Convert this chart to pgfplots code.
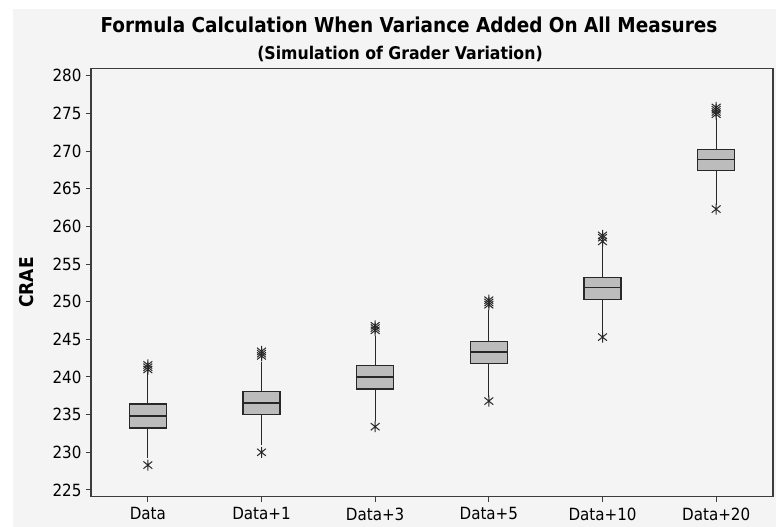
\documentclass[border=0pt]{standalone}
\usepackage{pgfplots}
\pgfplotsset{compat=1.18}
\usepackage{fontspec}
\setmainfont{DejaVu Sans Condensed}
\definecolor{bg}{RGB}{244,244,244}
\definecolor{boxfill}{RGB}{188,188,188}
\definecolor{boxline}{RGB}{40,40,40}
\definecolor{framecol}{RGB}{60,60,60}
\pgfdeclareplotmark{mtstar}{%
  \pgfpathmoveto{\pgfqpoint{0pt}{\pgfplotmarksize}}%
  \pgfpathlineto{\pgfqpoint{0pt}{-\pgfplotmarksize}}%
  \pgfpathmoveto{\pgfqpoint{-0.8\pgfplotmarksize}{0.65\pgfplotmarksize}}%
  \pgfpathlineto{\pgfqpoint{0.8\pgfplotmarksize}{-0.65\pgfplotmarksize}}%
  \pgfpathmoveto{\pgfqpoint{-0.8\pgfplotmarksize}{-0.65\pgfplotmarksize}}%
  \pgfpathlineto{\pgfqpoint{0.8\pgfplotmarksize}{0.65\pgfplotmarksize}}%
  \pgfusepathqstroke}
% #1 left, #2 centre, #3 right, #4 lower whisker, #5 Q1, #6 median, #7 Q3, #8 upper whisker
\newcommand{\bx}[8]{%
  \addplot[draw=boxline, line width=1.3bp] coordinates {(#2,#4) (#2,#5)};
  \addplot[draw=boxline, line width=1.3bp] coordinates {(#2,#7) (#2,#8)};
  \addplot[draw=boxline, fill=boxfill, line width=1.5bp] coordinates {(#1,#5) (#3,#5) (#3,#7) (#1,#7)} -- cycle;
  \addplot[draw=boxline, line width=1.5bp] coordinates {(#1,#6) (#3,#6)};
}
\begin{document}
\begin{tikzpicture}
\useasboundingbox (0bp,0bp) rectangle (776bp,527bp);
\fill[white] (0bp,0bp) rectangle (776bp,527bp);
\fill[bg] (13bp,0bp) rectangle (776bp,518bp);
\node[anchor=base, font=\fontsize{20.5bp}{24bp}\selectfont\bfseries] at (409bp,494.7bp) {Formula Calculation When Variance Added On All Measures};
\node[anchor=base, font=\fontsize{17.5bp}{21bp}\selectfont\bfseries] at (400bp,467bp) {(Simulation of Grader Variation)};
\begin{axis}[
  at={(91bp,30.3bp)}, anchor=south west,
  scale only axis, width=682bp, height=428.4bp,
  xmin=-0.5, xmax=5.5, ymin=224.1, ymax=281,
  xtick={0,1,2,3,4,5},
  xticklabels={Data,Data+1,Data+3,Data+5,Data+10,Data+20},
  ytick={225,230,...,280},
  tick align=outside, xtick pos=bottom, ytick pos=left,
  major tick length=5bp,
  tick style={draw=framecol, line width=1bp},
  axis line style={draw=framecol, line width=1.1bp},
  /pgf/number format/assume math mode=true,
  ticklabel style={font=\fontsize{16.8bp}{19bp}\selectfont, text=black},
  yticklabel style={xshift=-1bp},
  xticklabel style={yshift=-2.5bp},
  ylabel={\textbf{CRAE}},
  ylabel style={at={(axis description cs:0,0.5)}, anchor=center, yshift=64bp, font=\fontsize{19bp}{22bp}\selectfont},
  axis background/.style={fill=bg},
  clip=false,
]
\bx{-0.1625}{0}{0.1625}{229.25}{233.2}{234.8}{236.4}{240.7}
\bx{0.8375}{1}{1.1625}{231.0}{235.0}{236.55}{238.05}{242.0}
\bx{1.8375}{2}{2.1625}{234.1}{238.4}{240.0}{241.5}{245.4}
\bx{2.8375}{3}{3.1625}{237.4}{241.8}{243.3}{244.7}{248.9}
\bx{3.8375}{4}{4.1625}{245.8}{250.3}{251.9}{253.2}{257.3}
\bx{4.8375}{5}{5.1625}{262.9}{267.4}{268.9}{270.2}{274.4}
\addplot[only marks, mark=mtstar, mark size=5.5bp, mark options={draw=boxline, line width=1bp}] coordinates {
  (0,241.6) (0,241.3) (0,241.0) (0,228.3)
  (1,243.4) (1,243.1) (1,242.8) (1,230.0)
  (2,246.8) (2,246.5) (2,246.2) (2,233.4)
  (3,250.2) (3,249.9) (3,249.6) (3,236.8)
  (4,258.8) (4,258.5) (4,258.0) (4,245.3)
  (5,275.8) (5,275.5) (5,275.2) (5,274.9) (5,262.3)
};
\end{axis}
\end{tikzpicture}
\end{document}
